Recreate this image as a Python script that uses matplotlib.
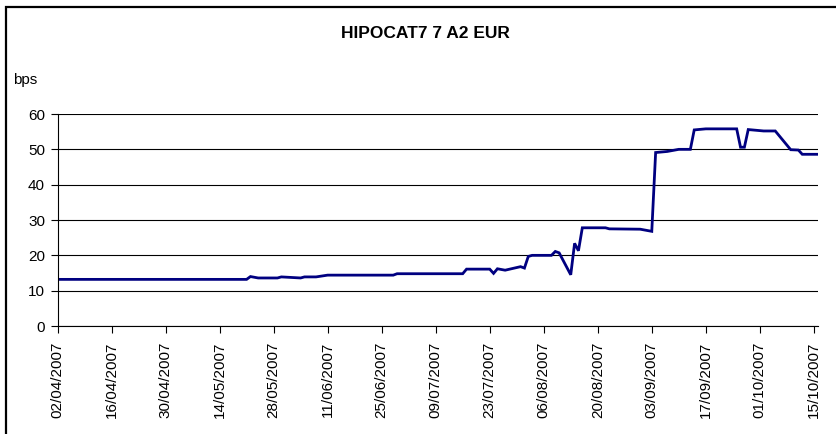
import datetime as dt
import matplotlib
matplotlib.use("Agg")
import matplotlib.pyplot as plt
from matplotlib.patches import Rectangle

plt.rcParams['font.family'] = ['Liberation Sans', 'DejaVu Sans']

# Точки графика (дата, спред в bps)
dates = ["02/04/2007", "21/05/2007", "22/05/2007", "24/05/2007", "29/05/2007",
         "30/05/2007", "04/06/2007", "05/06/2007", "08/06/2007", "11/06/2007",
         "28/06/2007", "29/06/2007", "16/07/2007", "17/07/2007", "23/07/2007",
         "24/07/2007", "25/07/2007", "27/07/2007", "31/07/2007", "01/08/2007",
         "02/08/2007", "03/08/2007", "08/08/2007", "09/08/2007", "10/08/2007",
         "13/08/2007", "14/08/2007", "15/08/2007", "16/08/2007", "22/08/2007",
         "23/08/2007", "31/08/2007", "03/09/2007", "04/09/2007", "07/09/2007",
         "10/09/2007", "13/09/2007", "14/09/2007", "17/09/2007", "25/09/2007",
         "26/09/2007", "27/09/2007", "28/09/2007", "02/10/2007", "05/10/2007",
         "09/10/2007", "11/10/2007", "12/10/2007", "16/10/2007"]
bps = [13.2, 13.2, 14.0, 13.6, 13.6,
       13.9, 13.6, 13.9, 13.9, 14.4,
       14.4, 14.8, 14.8, 16.1, 16.1,
       14.9, 16.2, 15.8, 16.8, 16.4,
       19.7, 20.0, 20.0, 21.1, 20.7,
       14.5, 23.4, 21.3, 27.8, 27.8,
       27.5, 27.4, 26.8, 49.1, 49.4,
       50.0, 50.0, 55.5, 55.8, 55.8,
       50.6, 50.6, 55.6, 55.2, 55.2,
       49.9, 49.8, 48.6, 48.6]

tick_labels = ["02/04/2007", "16/04/2007", "30/04/2007", "14/05/2007", "28/05/2007",
               "11/06/2007", "25/06/2007", "09/07/2007", "23/07/2007", "06/08/2007",
               "20/08/2007", "03/09/2007", "17/09/2007", "01/10/2007", "15/10/2007"]
y_ticks = [0, 10, 20, 30, 40, 50, 60]

x = [dt.datetime.strptime(d, "%d/%m/%Y") for d in dates]
xt = [dt.datetime.strptime(d, "%d/%m/%Y") for d in tick_labels]

fig = plt.figure(figsize=(8.36, 4.34), dpi=100)

# рамка вокруг диаграммы (справа и снизу уходит за край картинки)
fig.patches.append(Rectangle((5.5 / 836, -0.1), 1.2, 0.1 + 1 - 7 / 434,
                             transform=fig.transFigure, fill=False,
                             edgecolor="black", lw=1.6))

ax = fig.add_axes([0.0688, 0.2488, 0.9097, 0.4885])
ax.plot(x, bps, color="#000080", lw=2.0, solid_joinstyle="miter")

ax.set_ylim(0, 60)
ax.set_xlim(x[0], dt.datetime(2007, 10, 16, 2))
ax.set_yticks(y_ticks)
ax.set_xticks(xt)
ax.set_xticklabels(tick_labels, rotation=90, fontsize=11)
ax.tick_params(axis="y", labelsize=11, length=5, direction="out", pad=4)
ax.tick_params(axis="x", length=5, direction="out", pad=6)
ax.yaxis.grid(True, color="black", lw=0.8)
ax.set_axisbelow(True)

for side in ["top", "right"]:
    ax.spines[side].set_visible(False)
ax.spines["left"].set_linewidth(0.8)
ax.spines["bottom"].set_linewidth(0.8)

fig.text(0.509, 0.922, "HIPOCAT7 7 A2 EUR", ha="center", va="center",
         fontsize=12.5, fontweight="bold")
fig.text(0.016, 0.815, "bps", ha="left", va="center", fontsize=11)

fig.savefig("out.png", dpi=100)
